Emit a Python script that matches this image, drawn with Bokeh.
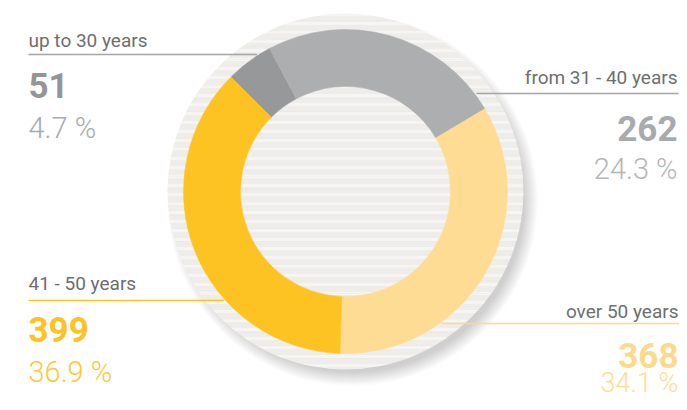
import numpy as np
from bokeh.plotting import figure
from bokeh.models import Range1d, ColumnDataSource
from bokeh.core.properties import value
from bokeh.embed import file_html
from bokeh.resources import INLINE

# ---- data ----
groups = ["up to 30 years", "from 31 - 40 years", "over 50 years", "41 - 50 years"]
counts = [51, 262, 368, 399]
pct_labels = ["4.7 %", "24.3 %", "34.1 %", "36.9 %"]
ring_colors = ["#97989A", "#ADAEB0", "#FEDC93", "#FDC322"]

# ---- layout (image pixel coordinates, y measured downwards) ----
W, H = 679, 402          # visible part of the page
YREF = 410               # data y = YREF - image y
CX, CY = 345, 191
R_BG, R_OUT, R_IN = 178, 162, 105
START_DEG = 135.0

p = figure(width=W, height=H, output_backend="svg", toolbar_location=None,
           x_range=Range1d(0, W), y_range=Range1d(YREF - H, YREF), min_border=0)
p.axis.visible = False
p.grid.visible = False
p.outline_line_color = None
p.background_fill_color = "white"
p.border_fill_color = "white"

def Y(y):
    return YREF - y

cx, cy = CX, Y(CY)

# soft shadow of the background disc (towards lower right)
for k in range(16):
    p.circle(x=cx + 7, y=cy - 9, radius=R_BG - 6 + k * 0.9, fill_color="#000000",
             fill_alpha=0.013, line_color=None)
# textured background disc
p.circle(x=cx, y=cy, radius=R_BG, fill_color="#EFEDEA", line_color=None)
p.circle(x=cx, y=cy, radius=R_BG, fill_alpha=0, line_color=None,
         hatch_pattern="horizontal_line", hatch_color="#FFFFFF", hatch_alpha=0.45,
         hatch_scale=9, hatch_weight=3)
p.circle(x=cx, y=cy, radius=R_BG, fill_alpha=0, line_color=None,
         hatch_pattern="horizontal_line", hatch_color="#D9D5D0", hatch_alpha=0.15,
         hatch_scale=13, hatch_weight=1)

# leader lines (drawn beneath the ring)
line_y = [54, 93, 323, 300]
line_side = [-1, 1, 1, -1]
line_colors = ["#A4A5A7", "#A4A5A7", "#FED98B", "#FDC322"]
line_end = [28, 678, 679, 28]
for ly, side, col, xe in zip(line_y, line_side, line_colors, line_end):
    dy = CY - ly
    ring_x = CX + side * np.sqrt(R_OUT ** 2 - dy ** 2)
    p.line(x=[xe, ring_x + side * 2], y=[Y(ly), Y(ly)], line_color=col, line_width=1.3)

# ring
total = float(sum(counts))
frac = np.array(counts) / total
bounds = np.radians(START_DEG - np.concatenate([[0], np.cumsum(frac)]) * 360.0)
src = ColumnDataSource(dict(start=bounds[1:], end=bounds[:-1], color=ring_colors))
p.annular_wedge(x=cx, y=cy, inner_radius=R_IN, outer_radius=R_OUT,
                start_angle="start", end_angle="end", direction="anticlock",
                fill_color="color", line_color="color", line_width=0.5, source=src)

# texts (y = vertical middle of the digits)
FONT = value("Roboto")
FONT_LIGHT = value("Roboto Light")
label_x = [(28, "left"), (677, "right"), (678, "right"), (28, "left")]
label_mid = [39.5, 76.5, 311, 283]
num_mid = [85, 127.5, 355, 328.5]
pct_mid = [127.5, 168, 382, 371]
pct_size = ["29px", "29px", "27px", "29px"]
num_colors = ["#939598", "#A9AAAD", "#FED98B", "#FDC322"]
pct_colors = ["#A9AAAD", "#B4B5B7", "#FEDC96", "#FDC83A"]

for i, g in enumerate(groups):
    x, al = label_x[i]
    p.text(x=[x], y=[Y(label_mid[i])], text=[g], text_font=FONT, text_font_size="19px",
           text_color="#6D6E71", text_align=al, text_baseline="middle")
    p.text(x=[x], y=[Y(num_mid[i])], text=[str(counts[i])], text_font=FONT,
           text_font_size="35px", text_font_style="bold", text_color=num_colors[i],
           text_align=al, text_baseline="middle")
    p.text(x=[x], y=[Y(pct_mid[i])], text=[pct_labels[i]], text_font=FONT_LIGHT,
           text_font_size=pct_size[i], text_color=pct_colors[i],
           text_align=al, text_baseline="middle")

open("out.html", "w").write(file_html(p, INLINE))
